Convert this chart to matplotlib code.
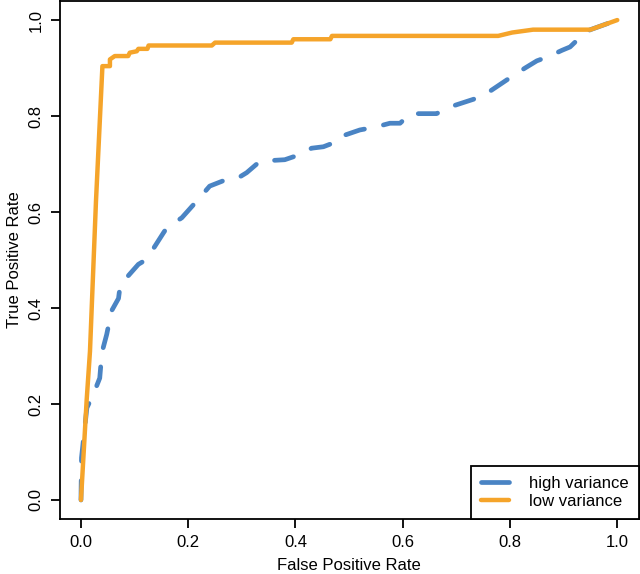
import matplotlib
matplotlib.use("Agg")
import matplotlib.pyplot as plt
from matplotlib.lines import Line2D

plt.rcParams['font.family'] = ['Liberation Sans', 'DejaVu Sans']

# high variance ROC curve (FPR, TPR)
high_fpr = [0.0, 0.001, 0.011, 0.023, 0.035, 0.039, 0.048, 0.057, 0.070, 0.073,
            0.088, 0.107, 0.122, 0.138, 0.154, 0.160, 0.188, 0.216, 0.240, 0.265,
            0.290, 0.309, 0.334, 0.380, 0.409, 0.430, 0.452, 0.480, 0.486, 0.520,
            0.549, 0.576, 0.595, 0.614, 0.663, 0.688, 0.732, 0.763, 0.803, 0.828,
            0.850, 0.872, 0.897, 0.912, 0.925, 0.937, 0.950, 1.0]
high_tpr = [0.0, 0.088, 0.192, 0.220, 0.254, 0.307, 0.345, 0.394, 0.420, 0.446,
            0.467, 0.491, 0.501, 0.529, 0.557, 0.567, 0.588, 0.623, 0.654, 0.665,
            0.669, 0.682, 0.706, 0.709, 0.720, 0.733, 0.736, 0.748, 0.758, 0.771,
            0.777, 0.785, 0.785, 0.805, 0.805, 0.819, 0.835, 0.852, 0.882, 0.900,
            0.915, 0.924, 0.937, 0.944, 0.958, 0.973, 0.980, 1.0]

# low variance ROC curve (FPR, TPR)
low_fpr = [0.0, 0.0106, 0.0168, 0.028, 0.040, 0.054, 0.054, 0.063, 0.088, 0.091,
           0.104, 0.107, 0.124, 0.126, 0.244, 0.250, 0.393, 0.396, 0.465, 0.468,
           0.778, 0.804, 0.843, 0.950, 1.0]
low_tpr = [0.0, 0.208, 0.310, 0.623, 0.904, 0.904, 0.918, 0.925, 0.925, 0.932,
           0.935, 0.940, 0.940, 0.947, 0.947, 0.953, 0.953, 0.960, 0.960, 0.967,
           0.967, 0.974, 0.980, 0.980, 1.0]

series_labels = ["high variance", "low variance"]
blue = "#4a84c4"
orange = "#f5a42a"

plt.rcParams['lines.scale_dashes'] = False

fig = plt.figure(figsize=(6.4, 5.74), dpi=100)
ax = fig.add_axes([0.093, 0.0955, 0.905, 0.903])

ax.plot(high_fpr, high_tpr, color=blue, lw=3.4, linestyle=(0, (14, 14)),
        dash_capstyle='round', solid_capstyle='round')
ax.plot(low_fpr, low_tpr, color=orange, lw=3.2, solid_capstyle='round',
        solid_joinstyle='round')

ax.set_xlim(-0.04, 1.04)
ax.set_ylim(-0.04, 1.04)
ticks = [0.0, 0.2, 0.4, 0.6, 0.8, 1.0]
ax.set_xticks(ticks)
ax.set_yticks(ticks)
ax.set_xticklabels([f"{t:.1f}" for t in ticks], fontsize=12)
ax.set_yticklabels([f"{t:.1f}" for t in ticks], fontsize=12, rotation=90, va='center')
ax.tick_params(length=6.5, width=1.3, pad=5, color='black')
for s in ax.spines.values():
    s.set_linewidth(1.3)
ax.set_xlabel("False Positive Rate", fontsize=12, labelpad=6)
ax.set_ylabel("True Positive Rate", fontsize=12, labelpad=5)

handles = [Line2D([], [], color=blue, lw=3.4, solid_capstyle='round'),
           Line2D([], [], color=orange, lw=3.2, solid_capstyle='round')]
leg = ax.legend(handles, series_labels, loc='lower right', borderaxespad=0,
                fancybox=False, edgecolor='black', framealpha=1, fontsize=12,
                handlelength=1.7, handletextpad=1.2, labelspacing=0.22,
                borderpad=0.6)
leg.get_frame().set_linewidth(1.3)

fig.savefig("out.png", dpi=100)
